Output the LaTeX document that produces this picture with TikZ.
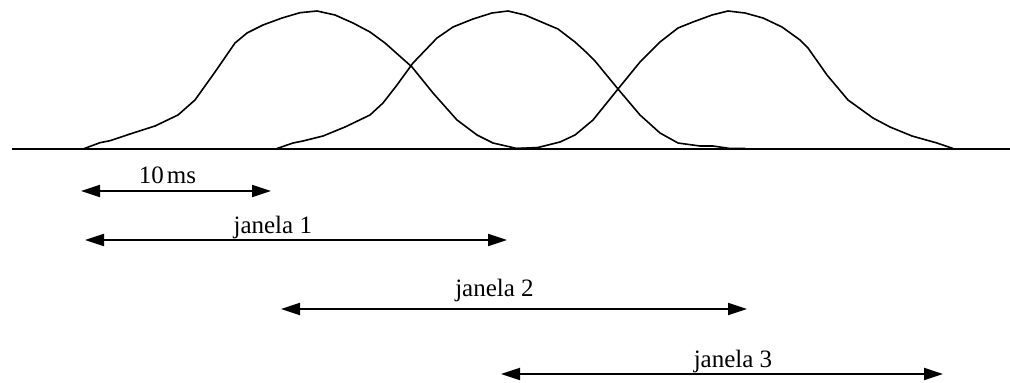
\documentclass[tikz,border=0pt]{standalone}
\usepackage{fontspec}
\setmainfont{Liberation Serif}
\usetikzlibrary{arrows.meta}
\begin{document}
\begin{tikzpicture}[x=1pt,y=-1pt,
  curve/.style={line width=1.6pt,line join=round,line cap=round},
  axis/.style={line width=2.2pt},
  span/.style={line width=2pt,{Triangle[length=19pt,width=12pt]}-{Triangle[length=19pt,width=12pt]}},
  lbl/.style={anchor=base,inner sep=0pt,font=\fontsize{25}{30}\selectfont}]
\useasboundingbox (0,0) rectangle (1010,383);
% axis
\coordinate (axL) at (12,149.3);
\coordinate (axR) at (1010,149.3);
\draw[axis] (axL) -- (axR);
% window curves
\draw[curve] (83,149) -- (100,142.7) -- (110,140.7) -- (130,134) -- (155,126) -- (178,115) -- (195,100) -- (215,72) -- (235,43) -- (247,33) -- (263,25) -- (282,18) -- (300,12.7) -- (317,11) -- (335,15) -- (353,23) -- (370,32) -- (385,43) -- (412,67) -- (433,93) -- (457,120) -- (477,135) -- (493,143) -- (517,148.5) -- (535,148.5);
\draw[curve] (277,148.5) -- (293,143) -- (303,141) -- (323,136) -- (345,127) -- (370,115) -- (383,103) -- (397,85) -- (413,63) -- (437,38) -- (453,27) -- (473,19) -- (492,13) -- (508,11) -- (525,15) -- (558,29) -- (575,42) -- (587,53) -- (595,61) -- (618,89) -- (640,115) -- (660,133) -- (678,143) -- (700,146) -- (713,146) -- (730,148.5) -- (745,148.5);
\draw[curve] (517,148.5) -- (538,147.5) -- (560,142) -- (575,135) -- (593,120) -- (618,89) -- (640,62) -- (660,42) -- (678,28) -- (693,22) -- (712,15) -- (728,11) -- (745,13) -- (763,18) -- (782,27) -- (800,40) -- (808,48) -- (827,75) -- (848,100) -- (873,118) -- (890,127) -- (912,136) -- (937,143) -- (953,148.5);
% spans
\coordinate (a0) at (81,191);  \coordinate (b0) at (271,191);
\coordinate (a1) at (85,240);  \coordinate (b1) at (507,240);
\coordinate (a2) at (281,309); \coordinate (b2) at (747,309);
\coordinate (a3) at (501,374); \coordinate (b3) at (943,374);
\draw[span] (a0) -- (b0);
\draw[span] (a1) -- (b1);
\draw[span] (a2) -- (b2);
\draw[span] (a3) -- (b3);
% labels
\node[lbl] (t0) at (167.5,183) {10\kern3pt ms};
\node[lbl] (t1) at (272.8,233) {janela 1};
\node[lbl] (t2) at (494.5,296) {janela 2};
\node[lbl] (t3) at (733,367) {janela 3};
\end{tikzpicture}
\end{document}
